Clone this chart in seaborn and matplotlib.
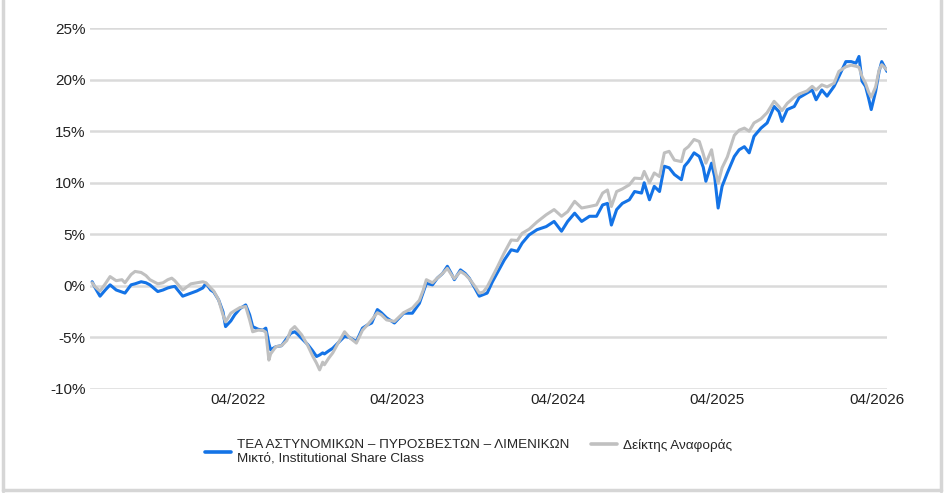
import matplotlib
matplotlib.use("Agg")
import matplotlib.pyplot as plt
import matplotlib.dates as mdates
from matplotlib.lines import Line2D
from matplotlib.ticker import FuncFormatter
import pandas as pd
import seaborn as sns

# cumulative return (%)
dates = [
    "2021-05-03", "2021-05-10", "2021-05-21", "2021-06-02", "2021-06-13", "2021-06-27",
    "2021-07-10", "2021-07-17", "2021-07-31", "2021-08-09", "2021-08-23", "2021-09-03",
    "2021-09-12", "2021-09-30", "2021-10-12", "2021-10-23", "2021-11-01", "2021-11-08",
    "2021-11-26", "2021-12-15", "2021-12-28", "2022-01-11", "2022-01-18", "2022-01-29",
    "2022-02-05", "2022-02-16", "2022-02-26", "2022-03-04", "2022-03-16", "2022-03-25",
    "2022-04-06", "2022-04-19", "2022-04-28", "2022-05-05", "2022-05-17", "2022-05-28",
    "2022-06-04", "2022-06-11", "2022-06-15", "2022-06-27", "2022-07-10", "2022-07-22",
    "2022-07-31", "2022-08-09", "2022-08-16", "2022-08-25", "2022-09-08", "2022-09-19",
    "2022-09-28", "2022-10-05", "2022-10-12", "2022-10-16", "2022-10-26", "2022-11-04",
    "2022-11-17", "2022-12-01", "2022-12-12", "2022-12-28", "2023-01-11", "2023-01-22",
    "2023-02-01", "2023-02-14", "2023-02-23", "2023-03-07", "2023-03-25", "2023-04-05",
    "2023-04-15", "2023-05-05", "2023-05-21", "2023-05-30", "2023-06-06", "2023-06-20",
    "2023-07-01", "2023-07-13", "2023-07-24", "2023-08-02", "2023-08-09", "2023-08-23",
    "2023-09-03", "2023-09-12", "2023-09-26", "2023-10-05", "2023-10-14", "2023-10-23",
    "2023-11-04", "2023-11-15", "2023-12-01", "2023-12-17", "2023-12-31", "2024-01-11",
    "2024-01-27", "2024-02-14", "2024-03-06", "2024-03-24", "2024-04-10", "2024-04-24",
    "2024-05-10", "2024-05-26", "2024-06-13", "2024-06-29", "2024-07-13", "2024-07-24",
    "2024-08-02", "2024-08-14", "2024-08-27", "2024-09-12", "2024-09-24", "2024-10-10",
    "2024-10-16", "2024-10-28", "2024-11-08", "2024-11-20", "2024-12-01", "2024-12-12",
    "2024-12-24", "2025-01-09", "2025-01-16", "2025-01-25", "2025-02-07", "2025-02-19",
    "2025-02-28", "2025-03-06", "2025-03-19", "2025-03-26", "2025-04-03", "2025-04-12",
    "2025-04-24", "2025-05-10", "2025-05-21", "2025-06-02", "2025-06-13", "2025-06-24",
    "2025-07-10", "2025-07-24", "2025-08-09", "2025-08-20", "2025-08-27", "2025-09-08",
    "2025-09-24", "2025-10-05", "2025-10-23", "2025-11-04", "2025-11-13", "2025-11-26",
    "2025-12-08", "2025-12-24", "2026-01-04", "2026-01-20", "2026-02-01", "2026-02-12",
    "2026-02-19", "2026-02-26", "2026-03-06", "2026-03-13", "2026-03-19", "2026-03-29",
    "2026-04-06", "2026-04-12", "2026-04-24",
]

fund = [
    0.4, -0.2, -1.0, -0.4, 0.1, -0.4,
    -0.6, -0.7, 0.1, 0.2, 0.4, 0.3,
    0.1, -0.55, -0.4, -0.2, -0.1, -0.05,
    -1.0, -0.7, -0.5, -0.2, 0.25, -0.4,
    -0.6, -1.35, -2.5, -3.95, -3.4, -2.8,
    -2.2, -1.85, -2.8, -3.95, -4.2, -4.3,
    -4.1, -5.6, -6.2, -5.9, -5.8, -5.1,
    -4.6, -4.45, -4.7, -5.1, -5.7, -6.3,
    -6.85, -6.7, -6.5, -6.6, -6.3, -6.05,
    -5.5, -4.9, -5.0, -5.4, -4.1, -3.8,
    -3.6, -2.3, -2.6, -3.1, -3.6, -3.1,
    -2.65, -2.65, -1.7, -0.6, 0.25, 0.1,
    0.75, 1.2, 1.9, 1.2, 0.6, 1.55,
    1.2, 0.75, -0.3, -1.0, -0.85, -0.7,
    0.4, 1.25, 2.5, 3.5, 3.35, 4.15,
    4.95, 5.45, 5.75, 6.25, 5.3, 6.25,
    7.05, 6.25, 6.75, 6.75, 7.85, 8.0,
    5.9, 7.4, 8.0, 8.35, 9.15, 9.0,
    10.0, 8.35, 9.65, 9.15, 11.6, 11.45,
    10.8, 10.3, 11.6, 12.05, 12.9, 12.55,
    11.5, 10.15, 11.9, 10.6, 7.55, 9.65,
    10.95, 12.55, 13.2, 13.5, 12.9, 14.5,
    15.3, 15.8, 17.4, 16.9, 15.95, 17.1,
    17.4, 18.25, 18.7, 19.0, 18.05, 19.0,
    18.4, 19.35, 20.3, 21.75, 21.75, 21.6,
    22.25, 19.85, 19.35, 18.2, 17.1, 18.85,
    20.8, 21.75, 20.8,
]

benchmark = [
    0.3, -0.1, -0.5, 0.2, 0.9, 0.5,
    0.6, 0.3, 1.1, 1.4, 1.3, 1.0,
    0.6, 0.2, 0.3, 0.6, 0.75, 0.5,
    -0.4, 0.2, 0.3, 0.4, 0.3, -0.2,
    -0.5, -1.35, -2.8, -3.5, -2.65, -2.4,
    -2.1, -2.0, -3.3, -4.45, -4.3, -4.3,
    -4.5, -7.2, -6.6, -5.9, -5.8, -5.3,
    -4.3, -3.95, -4.3, -4.75, -5.8, -6.8,
    -7.5, -8.15, -7.4, -7.65, -7.0, -6.5,
    -5.5, -4.45, -5.0, -5.55, -4.3, -3.8,
    -3.3, -2.6, -2.8, -3.3, -3.45, -3.0,
    -2.6, -2.15, -1.4, -0.4, 0.6, 0.3,
    0.75, 1.2, 1.7, 1.1, 0.7, 1.4,
    1.1, 0.7, -0.1, -0.7, -0.6, -0.1,
    0.9, 1.8, 3.2, 4.45, 4.4, 5.1,
    5.5, 6.2, 6.9, 7.4, 6.75, 7.2,
    8.2, 7.55, 7.7, 7.85, 9.0, 9.3,
    7.7, 9.15, 9.4, 9.8, 10.45, 10.4,
    11.1, 10.0, 10.95, 10.6, 12.9, 13.05,
    12.2, 12.05, 13.2, 13.5, 14.2, 14.0,
    12.8, 11.9, 13.2, 11.5, 9.95, 11.45,
    12.5, 14.6, 15.1, 15.3, 15.0, 15.8,
    16.2, 16.8, 17.9, 17.4, 17.0, 17.7,
    18.3, 18.6, 18.9, 19.35, 19.0, 19.5,
    19.3, 19.65, 20.8, 21.25, 21.4, 21.3,
    21.2, 20.3, 19.65, 18.8, 18.3, 19.3,
    20.95, 21.45, 20.95,
]

fund_label = "ΤΕΑ ΑΣΤΥΝΟΜΙΚΩΝ – ΠΥΡΟΣΒΕΣΤΩΝ – ΛΙΜΕΝΙΚΩΝ\nΜικτό, Institutional Share Class"
bench_label = "Δείκτης Αναφοράς"
x_ticks = ["2022-04-01", "2023-04-01", "2024-04-01", "2025-04-01", "2026-04-01"]
y_ticks = [-10, -5, 0, 5, 10, 15, 20, 25]

BLUE = "#1473e6"
GREY = "#c0c0c0"

df = pd.DataFrame({"date": pd.to_datetime(dates), "fund": fund, "benchmark": benchmark})

sns.set_style("white")
plt.rcParams["font.family"] = ["Liberation Sans", "DejaVu Sans"]

fig = plt.figure(figsize=(9.44, 4.93), dpi=100)
ax = fig.add_axes([0.0953, 0.211, 0.8443, 0.732])

sns.lineplot(data=df, x="date", y="fund", ax=ax, color=BLUE, linewidth=2.2)
sns.lineplot(data=df, x="date", y="benchmark", ax=ax, color=GREY, linewidth=2.2)

ax.set_xlim(pd.Timestamp("2021-04-28"), pd.Timestamp("2026-04-24"))
ax.set_ylim(-10, 25)
ax.set_yticks(y_ticks)
ax.yaxis.set_major_formatter(FuncFormatter(lambda v, p: f"{v:.0f}%"))
ax.set_xticks(pd.to_datetime(x_ticks))
ax.xaxis.set_major_formatter(mdates.DateFormatter("%m/%Y"))
ax.grid(axis="y", color="#dadada", linewidth=1.8)
ax.set_axisbelow(True)
for s in ax.spines.values():
    s.set_visible(False)
ax.tick_params(axis="both", length=0, labelsize=11, colors="#222222", pad=3)
ax.set_xlabel("")
ax.set_ylabel("")

# two separate legends so the grey entry lines up with the first text row
leg_kw = dict(loc="upper left", bbox_transform=fig.transFigure, frameon=False, fontsize=9.7,
              handlelength=1.9, handletextpad=0.5, borderpad=0, borderaxespad=0)
h_fund = Line2D([], [], color=BLUE, linewidth=2.6)
h_bench = Line2D([], [], color=GREY, linewidth=2.6)
leg1 = ax.legend([h_fund], [fund_label], bbox_to_anchor=(205 / 944, 1 - 439 / 493), **leg_kw)
ax.add_artist(leg1)
ax.legend([h_bench], [bench_label], bbox_to_anchor=(591 / 944, 1 - 439 / 493), **leg_kw)

# light frame: left, right, bottom
frame = "#d6d6d6"
fig.add_artist(Line2D([2.5 / 944, 2.5 / 944], [0.004, 1], color=frame, linewidth=2.5,
                      transform=fig.transFigure))
fig.add_artist(Line2D([941 / 944, 941 / 944], [0.004, 1], color=frame, linewidth=2.5,
                      transform=fig.transFigure))
fig.add_artist(Line2D([2.5 / 944, 941 / 944], [3 / 493, 3 / 493], color=frame, linewidth=2.5,
                      transform=fig.transFigure))

fig.savefig("out.png", dpi=100)
